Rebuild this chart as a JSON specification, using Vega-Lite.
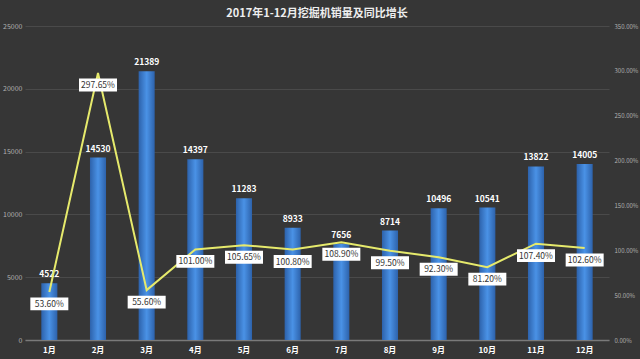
{
  "$schema": "https://vega.github.io/schema/vega-lite/v6.json",
  "width": 584,
  "height": 314,
  "autosize": {"type": "none"},
  "padding": {"left": 25, "top": 26, "right": 31, "bottom": 19},
  "background": "#363636",
  "title": {
    "text": "2017年1-12月挖掘机销量及同比增长",
    "font": "Noto Sans CJK SC",
    "fontSize": 11,
    "fontWeight": "bold",
    "color": "#eeeeee",
    "offset": 3,
    "anchor": "middle"
  },
  "config": {
    "view": {"stroke": null},
    "axis": {"labelFont": "Noto Sans CJK SC", "titleFont": "Noto Sans CJK SC"}
  },
  "data": {
    "values": [
      {"month": "1月", "sales": 4522, "yoy": 0.536},
      {"month": "2月", "sales": 14530, "yoy": 2.9765},
      {"month": "3月", "sales": 21389, "yoy": 0.556},
      {"month": "4月", "sales": 14397, "yoy": 1.01},
      {"month": "5月", "sales": 11283, "yoy": 1.0565},
      {"month": "6月", "sales": 8933, "yoy": 1.008},
      {"month": "7月", "sales": 7656, "yoy": 1.089},
      {"month": "8月", "sales": 8714, "yoy": 0.995},
      {"month": "9月", "sales": 10496, "yoy": 0.923},
      {"month": "10月", "sales": 10541, "yoy": 0.812},
      {"month": "11月", "sales": 13822, "yoy": 1.074},
      {"month": "12月", "sales": 14005, "yoy": 1.026}
    ]
  },
  "encoding": {
    "x": {
      "field": "month",
      "type": "ordinal",
      "sort": null,
      "scale": {"paddingInner": 0.67, "paddingOuter": 0.335},
      "axis": {
        "title": null,
        "labelAngle": 0,
        "labelColor": "#ffffff",
        "labelFontSize": 8,
        "labelFontWeight": "bold",
        "labelPadding": 6,
        "ticks": false,
        "domainColor": "#7a7a7a",
        "domainWidth": 1.5,
        "grid": false
      }
    }
  },
  "layer": [
    {
      "layer": [
        {
          "mark": {
            "type": "bar",
            "color": {
              "gradient": "linear",
              "x1": 0, "x2": 1, "y1": 0, "y2": 0,
              "stops": [
                {"offset": 0, "color": "#2d62ab"},
                {"offset": 0.5, "color": "#4a92e6"},
                {"offset": 1, "color": "#2d62ab"}
              ]
            }
          },
          "encoding": {
            "y": {
              "field": "sales",
              "type": "quantitative",
              "scale": {"domain": [0, 25000], "nice": false},
              "axis": {
                "title": null,
                "values": [0, 5000, 10000, 15000, 20000, 25000],
                "format": "d",
                "labelColor": "#b0b0b0",
                "labelFontSize": 7,
                "labelPadding": 3,
                "ticks": false,
                "domain": false,
                "gridColor": "#4a4a4a",
                "gridWidth": 1
              }
            }
          }
        },
        {
          "mark": {
            "type": "text",
            "baseline": "bottom",
            "dy": -4,
            "color": "#ffffff",
            "fontSize": 8.5,
            "fontWeight": "bold",
            "font": "Noto Sans CJK SC"
          },
          "encoding": {
            "y": {"field": "sales", "type": "quantitative"},
            "text": {"field": "sales", "type": "quantitative", "format": "d"}
          }
        }
      ]
    },
    {
      "layer": [
        {
          "mark": {"type": "line", "color": "#e6ea6c", "strokeWidth": 2},
          "encoding": {
            "y": {
              "field": "yoy",
              "type": "quantitative",
              "scale": {"domain": [0, 3.5], "nice": false},
              "axis": {
                "title": null,
                "orient": "right",
                "values": [0, 0.5, 1, 1.5, 2, 2.5, 3, 3.5],
                "format": ".2%",
                "labelColor": "#b0b0b0",
                "labelFontSize": 6,
                "labelPadding": 5,
                "ticks": false,
                "domain": false,
                "grid": false
              }
            }
          }
        },
        {
          "mark": {
            "type": "point",
            "shape": "M-1,-0.34H1V0.34H-1Z",
            "size": 1444,
            "filled": true,
            "color": "#ffffff",
            "opacity": 1,
            "yOffset": 12
          },
          "encoding": {
            "y": {"field": "yoy", "type": "quantitative"}
          }
        },
        {
          "mark": {
            "type": "text",
            "yOffset": 12,
            "color": "#333333",
            "fontSize": 8.5,
            "font": "Noto Sans CJK SC"
          },
          "encoding": {
            "y": {"field": "yoy", "type": "quantitative"},
            "text": {"field": "yoy", "type": "quantitative", "format": ".2%"}
          }
        }
      ]
    }
  ],
  "resolve": {"scale": {"y": "independent"}}
}
